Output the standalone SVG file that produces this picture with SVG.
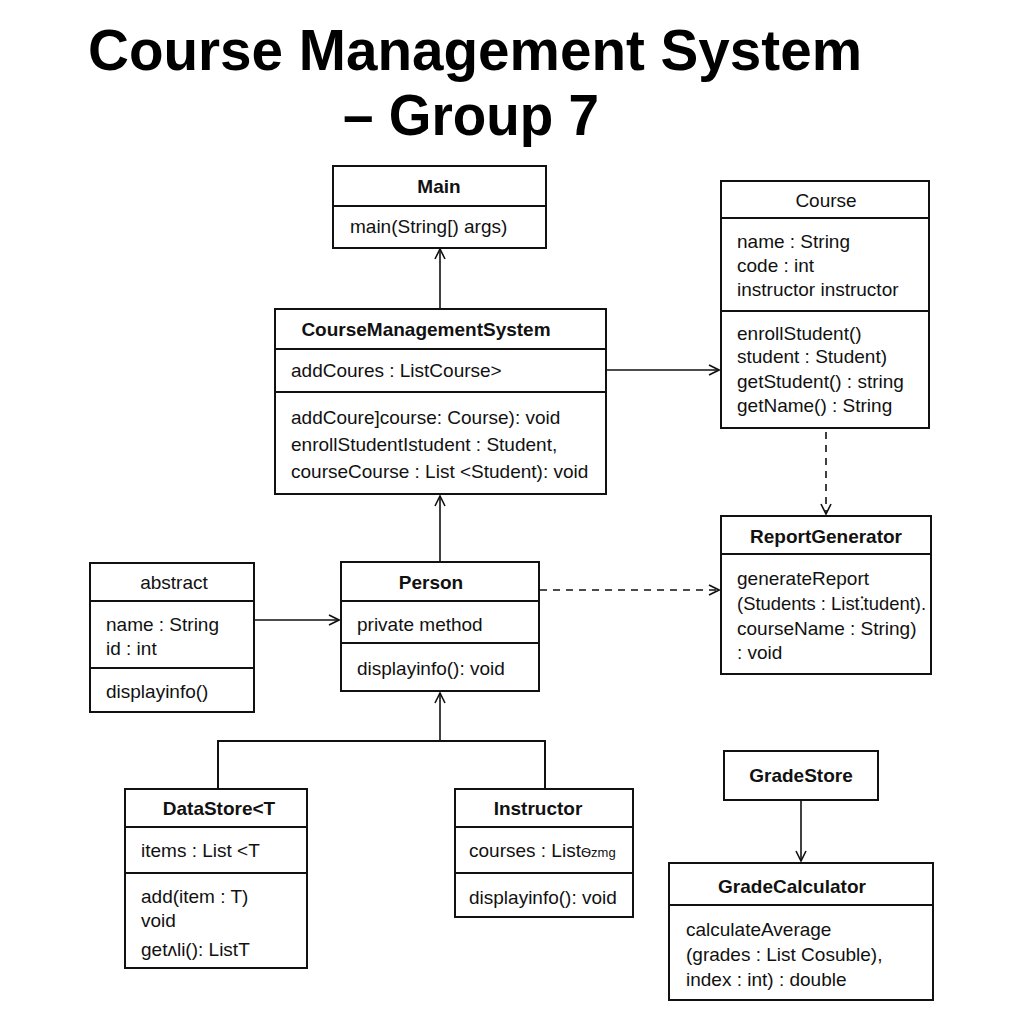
<svg xmlns="http://www.w3.org/2000/svg" width="1024" height="1024" viewBox="0 0 1024 1024">
<defs>
<style>
.box{fill:#fff;stroke:#111;stroke-width:2}
.div{stroke:#111;stroke-width:2;fill:none}
.t{font-family:"Liberation Sans",Arial,sans-serif;font-size:19px;fill:#111}
.h{font-family:"Liberation Sans",Arial,sans-serif;font-size:19px;font-weight:bold;fill:#111;text-anchor:middle}
.hn{font-family:"Liberation Sans",Arial,sans-serif;font-size:19px;fill:#111;text-anchor:middle}
.ttl{font-family:"Liberation Sans",Arial,sans-serif;font-size:57px;font-weight:bold;fill:#000}
.c{stroke:#111;stroke-width:1.6;fill:none}
.d{stroke:#111;stroke-width:1.6;fill:none;stroke-dasharray:7 6}
</style>
<marker id="arr" viewBox="0 0 12 12" refX="11" refY="6" markerWidth="12" markerHeight="12" markerUnits="userSpaceOnUse" orient="auto">
<path d="M1,1 L11,6 L1,11" fill="none" stroke="#111" stroke-width="1.6"/>
</marker>
</defs>
<rect width="1024" height="1024" fill="#fff"/>

<g id="title">
<text class="ttl" x="88" y="70" textLength="774" lengthAdjust="spacingAndGlyphs">Course Management System</text>
<text class="ttl" x="343" y="135" textLength="256" lengthAdjust="spacingAndGlyphs">– Group 7</text>
</g>

<g id="connectors">
<line class="c" x1="440" y1="309" x2="440" y2="249" marker-end="url(#arr)"/>
<line class="c" x1="606" y1="370" x2="719" y2="370" marker-end="url(#arr)"/>
<line class="d" x1="826" y1="432" x2="826" y2="514" marker-end="url(#arr)"/>
<line class="d" x1="540" y1="590" x2="719" y2="590" marker-end="url(#arr)"/>
<line class="c" x1="440" y1="562" x2="440" y2="496" marker-end="url(#arr)"/>
<line class="c" x1="255" y1="620" x2="339" y2="620" marker-end="url(#arr)"/>
<line class="c" x1="440" y1="741" x2="440" y2="693" marker-end="url(#arr)"/>
<polyline class="c" points="218,789 218,741 545,741 545,789" style="stroke-width:2"/>
<line class="c" x1="801" y1="800" x2="801" y2="861" marker-end="url(#arr)"/>
</g>

<g id="Main">
<rect class="box" x="333" y="166" width="213" height="82"/>
<line class="div" x1="333" y1="206" x2="546" y2="206"/>
<text class="h" x="439" y="193">Main</text>
<text class="t" x="350" y="233">main(String[) args)</text>
</g>

<g id="CourseManagementSystem">
<rect class="box" x="275" y="309" width="331" height="185"/>
<line class="div" x1="275" y1="349" x2="606" y2="349"/>
<line class="div" x1="275" y1="392" x2="606" y2="392"/>
<text class="h" x="426" y="336">CourseManagementSystem</text>
<text class="t" x="291" y="377">addCoures : ListCourse&gt;</text>
<text class="t" x="291" y="424">addCoure]course: Course): void</text>
<text class="t" x="291" y="451">enrollStudentIstudent : Student,</text>
<text class="t" x="291" y="478">courseCourse : List &lt;Student): void</text>
</g>

<g id="Course">
<rect class="box" x="721" y="181" width="208" height="247"/>
<line class="div" x1="721" y1="218" x2="929" y2="218"/>
<line class="div" x1="721" y1="311" x2="929" y2="311"/>
<text class="hn" x="826" y="207">Course</text>
<text class="t" x="737" y="248">name : String</text>
<text class="t" x="737" y="272">code : int</text>
<text class="t" x="737" y="296">instructor instructor</text>
<text class="t" x="737" y="340">enrollStudent()</text>
<text class="t" x="737" y="363">student : Student)</text>
<text class="t" x="737" y="388">getStudent()  : string</text>
<text class="t" x="737" y="412">getName()  : String</text>
</g>

<g id="ReportGenerator">
<rect class="box" x="721" y="516" width="210" height="158"/>
<line class="div" x1="721" y1="554" x2="931" y2="554"/>
<text class="h" x="826" y="543">ReportGenerator</text>
<text class="t" x="737" y="585">generateReport</text>
<text class="t" x="737" y="610" textLength="189" lengthAdjust="spacingAndGlyphs">(Students : List⁚tudent).</text>
<text class="t" x="737" y="635">courseName : String)</text>
<text class="t" x="737" y="659">: void</text>
</g>

<g id="abstract">
<rect class="box" x="90" y="563" width="164" height="149"/>
<line class="div" x1="90" y1="601" x2="254" y2="601"/>
<line class="div" x1="90" y1="668" x2="254" y2="668"/>
<text class="hn" x="174" y="589">abstract</text>
<text class="t" x="106" y="631">name : String</text>
<text class="t" x="106" y="655">id : int</text>
<text class="t" x="106" y="698">displayinfo()</text>
</g>

<g id="Person">
<rect class="box" x="341" y="562" width="198" height="129"/>
<line class="div" x1="341" y1="601" x2="539" y2="601"/>
<line class="div" x1="341" y1="643" x2="539" y2="643"/>
<text class="h" x="431" y="589">Person</text>
<text class="t" x="357" y="631">private method</text>
<text class="t" x="357" y="675">displayinfo(): void</text>
</g>

<g id="DataStore">
<rect class="box" x="125" y="789" width="182" height="179"/>
<line class="div" x1="125" y1="827" x2="307" y2="827"/>
<line class="div" x1="125" y1="873" x2="307" y2="873"/>
<text class="h" x="219" y="815">DataStore&lt;T</text>
<text class="t" x="141" y="857">items : List &lt;T</text>
<text class="t" x="141" y="903">add(item : T)</text>
<text class="t" x="141" y="927">void</text>
<text class="t" x="141" y="956">getʌli(): ListT</text>
</g>

<g id="Instructor">
<rect class="box" x="455" y="789" width="178" height="128"/>
<line class="div" x1="455" y1="827" x2="633" y2="827"/>
<line class="div" x1="455" y1="873" x2="633" y2="873"/>
<text class="h" x="538" y="815">Instructor</text>
<text class="t" x="469" y="857">courses : List<tspan font-size="13">Ѳzmg</tspan></text>
<text class="t" x="469" y="904">displayinfo(): void</text>
</g>

<g id="GradeStore">
<rect class="box" x="724" y="751" width="154" height="49"/>
<text class="h" x="801" y="782">GradeStore</text>
</g>

<g id="GradeCalculator">
<rect class="box" x="669" y="863" width="264" height="137"/>
<line class="div" x1="669" y1="905" x2="933" y2="905"/>
<text class="h" x="792" y="893">GradeCalculator</text>
<text class="t" x="686" y="936">calculateAverage</text>
<text class="t" x="686" y="961">(grades : List Cosuble),</text>
<text class="t" x="686" y="986">index : int) : double</text>
</g>
</svg>
